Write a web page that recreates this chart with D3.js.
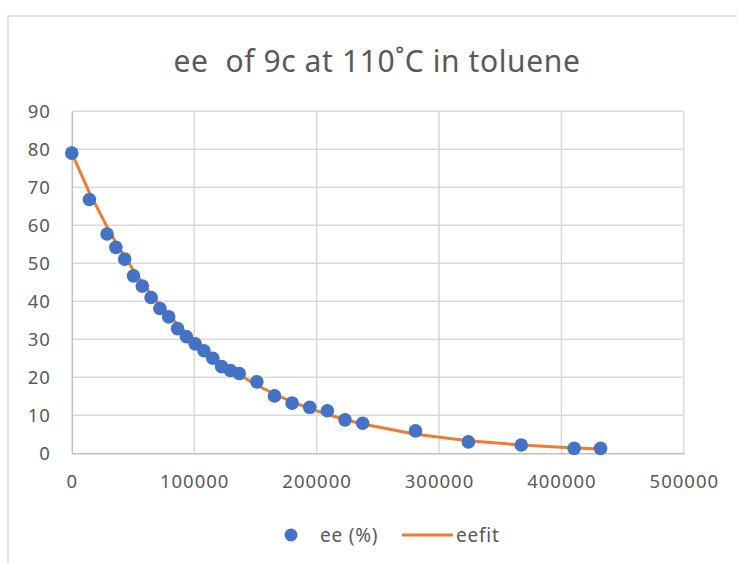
<!DOCTYPE html>
<html>
<head>
<meta charset="utf-8">
<script src="https://cdn.jsdelivr.net/npm/d3@7"></script>
<style>
  html, body { margin: 0; padding: 0; background: #fff; }
  svg { display: block; }
  text { font-family: "Noto Sans", "Open Sans", sans-serif; fill: #595959; }
</style>
</head>
<body>
<svg id="chart" width="737" height="563"></svg>
<script>
// Reaction time (s) and measured enantiomeric excess
const timeSec = [0, 14400, 28800, 36000, 43200, 50400, 57600, 64800, 72000, 79200,
  86400, 93600, 100800, 108000, 115200, 122400, 129600, 136800, 151200, 165600,
  180000, 194400, 208800, 223200, 237600, 280800, 324000, 367200, 410400, 432000];
const eeMeasured = [79, 66.8, 57.7, 54.2, 51.1, 46.7, 44.0, 41.0, 38.1, 35.9,
  32.8, 30.7, 28.8, 27.0, 25.0, 22.8, 21.8, 21.0, 18.8, 15.1,
  13.2, 12.1, 11.2, 8.8, 7.9, 5.9, 3.0, 2.2, 1.3, 1.3];
// First-order decay fit evaluated at the same times
const eeFit = [79.0, 68.6, 59.6, 55.5, 51.7, 48.2, 44.9, 41.9, 39.0, 36.4,
  33.9, 31.6, 29.4, 27.4, 25.5, 23.8, 22.2, 20.7, 17.9, 15.6,
  13.5, 11.8, 10.2, 8.9, 7.7, 5.0, 3.3, 2.2, 1.4, 1.1];
const xTicks = [0, 100000, 200000, 300000, 400000, 500000];
const yTicks = [0, 10, 20, 30, 40, 50, 60, 70, 80, 90];
const titleText = "ee  of 9c at 110\u02DAC in toluene";
const seriesNames = ["ee (%)", "eefit"];

const svg = d3.select("#chart");
const blue = "#4472C4", orange = "#ED7D31", grid = "#D9D9D9";

// chart frame
svg.append("rect")
  .attr("x", 8).attr("y", 16).attr("width", 760).attr("height", 600)
  .attr("fill", "#fff").attr("stroke", "#D9D9D9").attr("stroke-width", 1.5);

const x = d3.scaleLinear().domain([0, 500000]).range([71.8, 683.8]);
const y = d3.scaleLinear().domain([0, 90]).range([453.3, 111.3]);

// title
svg.append("text")
  .attr("x", 377).attr("y", 72)
  .attr("text-anchor", "middle")
  .style("font-size", "30px")
  .style("letter-spacing", "0.6px")
  .style("white-space", "pre")
  .text(titleText);

// gridlines
svg.append("g").selectAll("line.h").data(yTicks.filter(d => d > 0)).join("line")
  .attr("x1", x(0)).attr("x2", x(500000))
  .attr("y1", d => y(d)).attr("y2", d => y(d))
  .attr("stroke", grid).attr("stroke-width", 1.5);
svg.append("g").selectAll("line.v").data(xTicks.filter(d => d > 0)).join("line")
  .attr("x1", d => x(d)).attr("x2", d => x(d))
  .attr("y1", y(0)).attr("y2", y(90))
  .attr("stroke", grid).attr("stroke-width", 1.5);

// axes
const xAxis = svg.append("g").attr("transform", `translate(0,${y(0)})`)
  .call(d3.axisBottom(x).tickValues(xTicks).tickSize(0).tickPadding(22).tickFormat(d3.format("d")));
const yAxis = svg.append("g").attr("transform", `translate(${x(0)},0)`)
  .call(d3.axisLeft(y).tickValues(yTicks).tickSize(0).tickPadding(21).tickFormat(d3.format("d")));
[xAxis, yAxis].forEach(g => {
  g.select(".domain").attr("stroke", "#BFBFBF").attr("stroke-width", 1.5);
  g.selectAll("text").attr("fill", "#595959")
    .style("font-family", "'Noto Sans', sans-serif")
    .style("font-size", "18.5px").style("letter-spacing", "1px");
});

// fitted curve
svg.append("path")
  .datum(timeSec.map((t, i) => [t, eeFit[i]]))
  .attr("fill", "none").attr("stroke", orange).attr("stroke-width", 3)
  .attr("stroke-linejoin", "round").attr("stroke-linecap", "round")
  .attr("d", d3.line().x(d => x(d[0])).y(d => y(d[1])));

// measured points
svg.append("g").selectAll("circle").data(timeSec.map((t, i) => [t, eeMeasured[i]])).join("circle")
  .attr("cx", d => x(d[0])).attr("cy", d => y(d[1])).attr("r", 6.8)
  .attr("fill", blue);

// legend
const lg = svg.append("g");
lg.append("circle").attr("cx", 291).attr("cy", 535).attr("r", 6.5).attr("fill", blue);
lg.append("text").attr("x", 320).attr("y", 541.5)
  .style("font-size", "19px").style("letter-spacing", "0.8px").text(seriesNames[0]);
lg.append("line").attr("x1", 402).attr("x2", 453).attr("y1", 535).attr("y2", 535)
  .attr("stroke", orange).attr("stroke-width", 3);
lg.append("text").attr("x", 456).attr("y", 541.5)
  .style("font-size", "19px").style("letter-spacing", "0.8px").text(seriesNames[1]);
</script>
</body>
</html>
